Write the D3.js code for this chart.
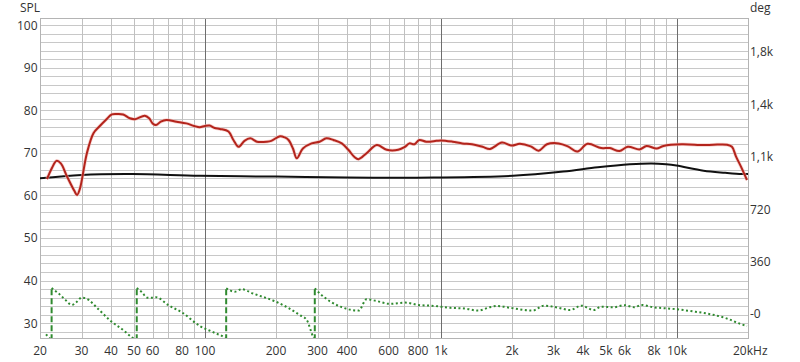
<!DOCTYPE html>
<html>
<head>
<meta charset="utf-8">
<script src="https://cdn.jsdelivr.net/npm/d3@7"></script>
<style>
  body { margin: 0; background: #fff; }
  text { font-family: "Open Sans", "Noto Sans", sans-serif; font-size: 12px; fill: #333; }
</style>
</head>
<body>
<div id="chart"></div>
<script>
// SPL measurement (red)
const splFreq = [21.4, 22.5, 23.5, 24.5, 26, 28, 28.7, 29.5, 31.6, 33.7, 35.6, 38, 40.3, 42.5, 45, 48, 50.6, 55.6, 58, 60, 62, 65, 68.6, 75.8, 83.4, 90, 95, 100, 104.6, 110, 115.8, 125.8, 132, 138.8, 147, 155.6, 166, 183, 191, 208, 218, 226, 236, 245, 260, 283, 306, 327, 350, 380, 405, 430, 447, 484, 535, 589, 659, 700, 735, 772, 810, 866, 957, 1000, 1120, 1232, 1354, 1500, 1613, 1813, 1992, 2160, 2400, 2594, 2812, 3156, 3450, 3785, 4181, 4773, 5200, 5700, 6190, 6960, 7430, 8200, 8760, 10480, 12960, 14300, 16300, 17100, 17800, 18800, 19800];
const splDb = [63.8, 66.5, 68.1, 67.5, 64.5, 61, 60.1, 61.5, 69.9, 74.6, 76.1, 77.7, 79.0, 79.1, 79.0, 78.1, 77.9, 78.7, 78.1, 76.9, 76.5, 77.3, 77.7, 77.3, 76.9, 76.3, 76.0, 76.3, 76.4, 75.8, 75.6, 75.0, 73, 71.4, 72.8, 73.4, 72.6, 72.6, 72.8, 73.9, 73.6, 73.0, 71, 68.7, 71, 72.2, 72.6, 73.4, 73, 72.2, 70.7, 69, 68.5, 69.9, 71.8, 70.7, 70.7, 71.3, 72.2, 72.0, 73.0, 72.6, 72.8, 72.9, 72.6, 72.2, 72.0, 71.4, 70.9, 72.4, 71.7, 72.1, 71.5, 70.5, 72.0, 72.2, 71.5, 70.3, 72.1, 71.1, 71.1, 70.4, 71.4, 70.8, 71.6, 71.0, 71.6, 72.0, 71.8, 71.9, 71.9, 71.4, 69.1, 66.4, 63.6];

// second trace (black)
const refFreq = [20, 30, 49, 95, 200, 400, 930, 2020, 3300, 4620, 6320, 7820, 9000, 9950, 12960, 16000, 18800, 20000];
const refDb = [64.0, 64.8, 65.0, 64.6, 64.4, 64.2, 64.2, 64.6, 65.6, 66.6, 67.3, 67.5, 67.3, 67.0, 65.8, 65.3, 65.0, 65.0];

// phase (green), wrapped; a repeated frequency marks a wrap
const phaseFreq = [21.2, 22.4, 22.4, 24, 25.5, 27.3, 28.5, 30, 31.5, 35, 40, 45, 49, 51.4, 51.4, 54, 57, 60, 62, 70, 80, 95, 110, 121.6, 123, 123, 134, 143, 160, 200, 252, 270, 287, 292, 292, 306, 340, 375, 448, 484, 530, 608, 704, 800, 936, 1094, 1250, 1441, 1600, 1724, 2000, 2446, 2729, 3100, 3521, 3942, 4433, 4773, 5400, 5982, 6600, 7070, 8000, 8930, 10000, 12000, 13700, 16200, 18600, 19800];
const phaseDeg = [-140, -180, 178, 140, 100, 62, 80, 112, 105, 40, -50, -110, -160, -180, 178, 150, 112, 112, 115, 60, 10, -82, -130, -167, -180, 176, 153, 170, 140, 84, -7, -41, -156, -180, 176, 142, 85, 50, 23, 101, 90, 69, 78, 62, 55, 42, 38, 23, 45, 55, 40, 23, 57, 45, 27, 57, 27, 50, 46, 60, 46, 62, 45, 39, 32, 15, 0, -30, -69, -82];

const gridFreqs = [20, 30, 40, 50, 60, 70, 80, 90, 100, 200, 300, 400, 500, 600, 700, 800, 900,
  1000, 2000, 3000, 4000, 5000, 6000, 7000, 8000, 9000, 10000, 20000];
const freqLabels = [20, 30, 40, 50, 60, 80, 100, 200, 300, 400, 600, 800, 1000, 2000, 3000, 4000, 5000, 6000, 8000, 10000, 20000];
const splTicks = [30, 40, 50, 60, 70, 80, 90, 100];
const degTicks = [0, 360, 720, 1080, 1440, 1800];
const degLabels = ['-0', '360', '720', '1,1k', '1,4k', '1,8k'];

const width = 800;
const height = 362;
const plotLeft = 40, plotRight = 748, plotTop = 18, plotBottom = 338;

const svg = d3.select('#chart')
  .append('svg')
    .attr('width', width)
    .attr('height', height);

const x = d3.scaleLog().domain([20, 20000]).range([plotLeft, plotRight]);
const y = d3.scaleLinear().domain([26.5, 101.65]).range([plotBottom, plotTop]);
const yDeg = d3.scaleLinear().domain([-165, 2031]).range([plotBottom, plotTop]);

svg.append('clipPath')
    .attr('id', 'plot-clip')
  .append('rect')
    .attr('x', plotLeft)
    .attr('y', plotTop)
    .attr('width', plotRight - plotLeft)
    .attr('height', plotBottom - plotTop);

// horizontal grid every 2 dB
svg.append('g')
  .selectAll('line')
  .data(d3.range(28, 101, 2))
  .join('line')
    .attr('x1', plotLeft)
    .attr('x2', plotRight)
    .attr('y1', d => Math.round(y(d)) + 0.5)
    .attr('y2', d => Math.round(y(d)) + 0.5)
    .attr('stroke', '#c8c8c8');

// vertical grid, decades darker
svg.append('g')
  .selectAll('line')
  .data(gridFreqs)
  .join('line')
    .attr('x1', d => Math.round(x(d)) + 0.5)
    .attr('x2', d => Math.round(x(d)) + 0.5)
    .attr('y1', plotTop)
    .attr('y2', plotBottom)
    .attr('stroke', d => [100, 1000, 10000].includes(d) ? '#6e6e6e' : '#c0c0c0');

svg.append('rect')
    .attr('x', plotLeft + 0.5)
    .attr('y', plotTop + 0.5)
    .attr('width', plotRight - plotLeft)
    .attr('height', plotBottom - plotTop)
    .attr('fill', 'none')
    .attr('stroke', '#b4b4b4');

const plot = svg.append('g').attr('clip-path', 'url(#plot-clip)');

// phase: split into runs at the wraps
const phasePts = phaseFreq.map((f, i) => ({ f, v: phaseDeg[i] }));
const runs = [[]];
const wraps = [];
phasePts.forEach((p, i) => {
  const prev = phasePts[i - 1];
  if (prev && prev.f === p.f) {
    wraps.push({ f: p.f, from: prev.v, to: p.v });
    runs.push([]);
  }
  runs[runs.length - 1].push(p);
});

const phaseLine = d3.line()
  .x(d => x(d.f))
  .y(d => yDeg(d.v))
  .curve(d3.curveMonotoneX);

plot.selectAll('.phase')
  .data(runs)
  .join('path')
    .attr('class', 'phase')
    .attr('d', phaseLine)
    .attr('fill', 'none')
    .attr('stroke', '#2f8a2f')
    .attr('stroke-width', 2)
    .attr('stroke-dasharray', '2,2.5');

plot.selectAll('.wrap')
  .data(wraps)
  .join('line')
    .attr('class', 'wrap')
    .attr('x1', d => x(d.f))
    .attr('x2', d => x(d.f))
    .attr('y1', d => yDeg(d.from))
    .attr('y2', d => yDeg(d.to))
    .attr('stroke', '#2f8a2f')
    .attr('stroke-width', 2)
    .attr('stroke-dasharray', '6,3');

const dbLine = d3.line()
  .x(d => x(d[0]))
  .y(d => y(d[1]))
  .curve(d3.curveCatmullRom);

plot.append('path')
    .attr('d', dbLine(refFreq.map((f, i) => [f, refDb[i]])))
    .attr('fill', 'none')
    .attr('stroke', '#111')
    .attr('stroke-width', 2);

plot.append('path')
    .attr('d', dbLine(splFreq.map((f, i) => [f, splDb[i]])))
    .attr('fill', 'none')
    .attr('stroke', '#f3b5b0')
    .attr('stroke-width', 3.5)
    .attr('opacity', 0.6);

plot.append('path')
    .attr('d', dbLine(splFreq.map((f, i) => [f, splDb[i]])))
    .attr('fill', 'none')
    .attr('stroke', '#b3241c')
    .attr('stroke-width', 2);

// axis labels
svg.append('g')
  .selectAll('text')
  .data(splTicks)
  .join('text')
    .attr('x', 37.5)
    .attr('y', d => y(d) + 4.5)
    .attr('text-anchor', 'end')
    .text(d => d);

svg.append('g')
  .selectAll('text')
  .data(degTicks)
  .join('text')
    .attr('x', 750)
    .attr('y', d => yDeg(d) + 4.5)
    .text((d, i) => degLabels[i]);

const fmtFreq = d => d >= 1000 ? (d / 1000) + 'k' + (d === 20000 ? 'Hz' : '') : d;
svg.append('g')
  .selectAll('text')
  .data(freqLabels)
  .join('text')
    .attr('x', d => d === 20000 ? x(d) - 15 : x(d))
    .attr('y', 355)
    .attr('text-anchor', d => d === 20000 ? 'start' : 'middle')
    .text(fmtFreq);

svg.append('text')
    .attr('x', 20)
    .attr('y', 12)
    .text('SPL');

svg.append('text')
    .attr('x', 750)
    .attr('y', 12)
    .text('deg');
</script>
</body>
</html>
